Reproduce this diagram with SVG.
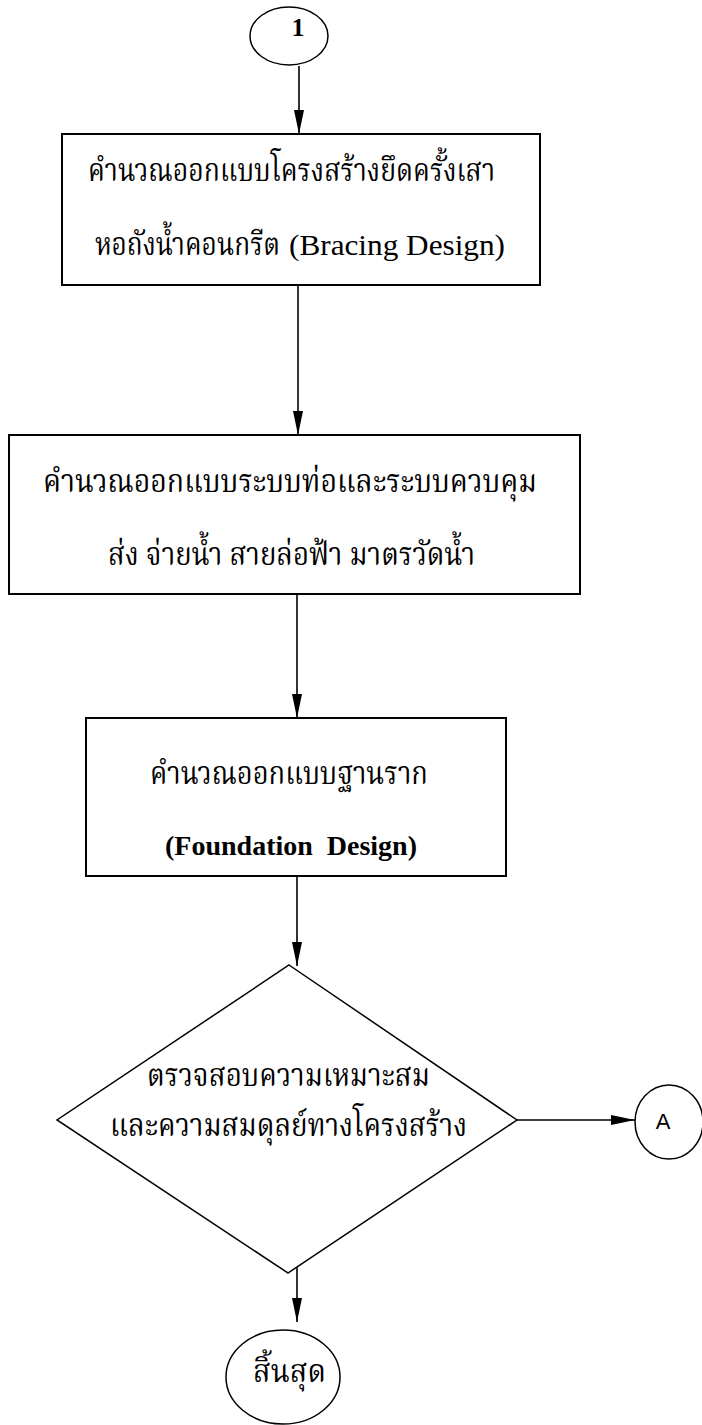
<svg xmlns="http://www.w3.org/2000/svg" width="702" height="1425" viewBox="0 0 702 1425">
  <style>
    .shape { fill: #ffffff; stroke: #000000; stroke-width: 2; }
    .thin { fill: #ffffff; stroke: #000000; stroke-width: 1.5; }
    .conn { stroke: #000000; stroke-width: 1.6; fill: none; }
    .th { font-family: "Noto Serif Thai", "Noto Sans Thai", "Loma", "Norasi", "Garuda", "Noto Sans", sans-serif; font-size: 32px; fill: #000; }
    .en { font-family: "Liberation Serif", "Times New Roman", serif; font-size: 29px; fill: #000; }
    .enb { font-family: "Liberation Serif", "Times New Roman", serif; font-size: 28px; font-weight: bold; fill: #000; }
    .sans { font-family: "Liberation Sans", Arial, sans-serif; font-size: 22px; fill: #000; }
  </style>
  <defs>
    <marker id="arrow" markerUnits="userSpaceOnUse" markerWidth="24" markerHeight="12" refX="24" refY="6" orient="auto">
      <path d="M0,1 L24,6 L0,11 Z" fill="#000"/>
    </marker>
  </defs>

  <g id="connectors">
    <line class="conn" x1="299" y1="66" x2="299" y2="134" marker-end="url(#arrow)"/>
    <line class="conn" x1="298" y1="285" x2="298" y2="435" marker-end="url(#arrow)"/>
    <line class="conn" x1="297" y1="594" x2="297" y2="718" marker-end="url(#arrow)"/>
    <line class="conn" x1="297" y1="876" x2="297" y2="966" marker-end="url(#arrow)"/>
    <line class="conn" x1="517" y1="1120" x2="635" y2="1120" marker-end="url(#arrow)"/>
    <line class="conn" x1="297" y1="1256" x2="297" y2="1322" marker-end="url(#arrow)"/>
  </g>

  <g id="start-1">
    <ellipse class="thin" cx="289" cy="36" rx="39" ry="29"/>
    <text x="298" y="36" text-anchor="middle" class="enb" style="font-size:26px">1</text>
  </g>

  <g id="box-bracing">
    <rect class="shape" x="62" y="134" width="478" height="151"/>
    <text class="th" x="88" y="181" textLength="407" lengthAdjust="spacingAndGlyphs">คำนวณออกแบบโครงสร้างยึดครั้งเสา</text>
    <text class="th" transform="translate(95,255) scale(0.82,1)" x="0" y="0">หอถังน้ำคอนกรีต</text>
    <text class="en" x="289" y="255" textLength="216" lengthAdjust="spacingAndGlyphs">(Bracing Design)</text>
  </g>

  <g id="box-pipe">
    <rect class="shape" x="9" y="435" width="571" height="159"/>
    <text class="th" x="43" y="492" textLength="494" lengthAdjust="spacingAndGlyphs">คำนวณออกแบบระบบท่อและระบบควบคุม</text>
    <text class="th" x="108" y="565" textLength="367" lengthAdjust="spacingAndGlyphs">ส่ง จ่ายน้ำ สายล่อฟ้า มาตรวัดน้ำ</text>
  </g>

  <g id="box-foundation">
    <rect class="shape" x="86" y="718" width="420" height="158"/>
    <text class="th" x="150" y="784" textLength="278" lengthAdjust="spacingAndGlyphs">คำนวณออกแบบฐานราก</text>
    <text class="enb" x="165" y="855" textLength="252" lengthAdjust="spacingAndGlyphs" xml:space="preserve">(Foundation  Design)</text>
  </g>

  <g id="decision">
    <polygon class="thin" points="289,965 517,1120 288,1273 57,1120"/>
    <text class="th" x="147" y="1086" textLength="283" lengthAdjust="spacingAndGlyphs">ตรวจสอบความเหมาะสม</text>
    <text class="th" x="110" y="1136" textLength="357" lengthAdjust="spacingAndGlyphs">และความสมดุลย์ทางโครงสร้าง</text>
  </g>

  <g id="connector-A">
    <ellipse class="thin" cx="669" cy="1122" rx="34" ry="37"/>
    <text class="sans" x="663" y="1129" text-anchor="middle">A</text>
  </g>

  <g id="end">
    <ellipse class="thin" cx="283" cy="1377" rx="57" ry="47"/>
    <text class="th" x="253" y="1382" textLength="73" lengthAdjust="spacingAndGlyphs">สิ้นสุด</text>
  </g>
</svg>
